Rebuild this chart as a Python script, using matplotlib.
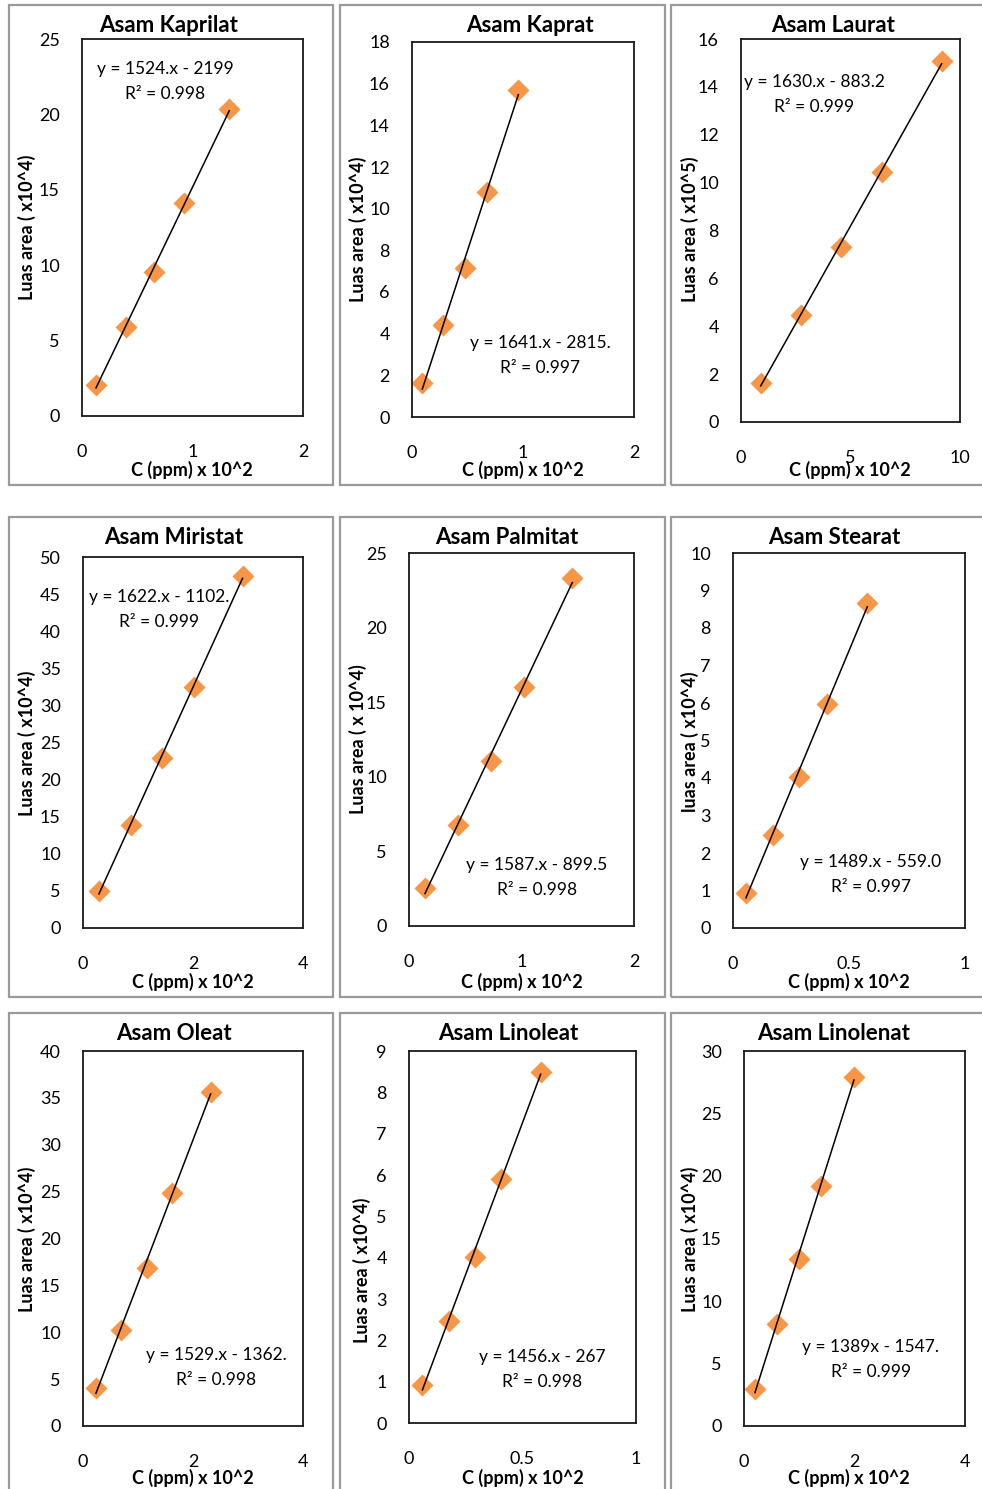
import numpy as np
import matplotlib.pyplot as plt
from matplotlib.patches import Rectangle
from matplotlib.ticker import FuncFormatter

plt.rcParams['font.family'] = ['Lato', 'DejaVu Sans']

# data (x in ppm x10^2, y in area units)
titles = ['Asam Kaprilat', 'Asam Kaprat', 'Asam Laurat',
          'Asam Miristat', 'Asam Palmitat', 'Asam Stearat',
          'Asam Oleat', 'Asam Linoleat', 'Asam Linolenat']
ylabels = ['Luas area ( x10^4)', 'Luas area ( x10^4)', 'Luas area ( x10^5)',
           'Luas area ( x10^4)', 'Luas area ( x 10^4)', 'luas area ( x10^4)',
           'Luas area ( x10^4)', 'Luas area ( x10^4)', 'Luas area ( x10^4)']
equations = ['y = 1524.x - 2199', 'y = 1641.x - 2815.', 'y = 1630.x - 883.2',
             'y = 1622.x - 1102.', 'y = 1587.x - 899.5', 'y = 1489.x - 559.0',
             'y = 1529.x - 1362.', 'y = 1456.x - 267', 'y = 1389x - 1547.']
r2 = ['R² = 0.998', 'R² = 0.997', 'R² = 0.999',
      'R² = 0.999', 'R² = 0.998', 'R² = 0.997',
      'R² = 0.998', 'R² = 0.998', 'R² = 0.999']

x_kaprilat = [0.127, 0.395, 0.654, 0.926, 1.333]
y_kaprilat = [2.06, 5.92, 9.57, 14.1, 20.36]
x_kaprat = [0.093, 0.282, 0.477, 0.673, 0.958]
y_kaprat = [1.62, 4.42, 7.14, 10.79, 15.70]
x_laurat = [0.90, 2.73, 4.57, 6.42, 9.16]
y_laurat = [1.64, 4.47, 7.30, 10.46, 15.08]
x_miristat = [0.29, 0.867, 1.44, 2.02, 2.90]
y_miristat = [4.99, 13.88, 22.95, 32.5, 47.5]
x_palmitat = [0.142, 0.439, 0.726, 1.02, 1.452]
y_palmitat = [2.53, 6.77, 11.06, 16.04, 23.3]
x_stearat = [0.056, 0.171, 0.286, 0.404, 0.579]
y_stearat = [0.94, 2.48, 4.02, 5.97, 8.66]
x_oleat = [0.236, 0.69, 1.158, 1.612, 2.321]
y_oleat = [4.02, 10.24, 16.82, 24.82, 35.66]
x_linoleat = [0.059, 0.176, 0.291, 0.404, 0.58]
y_linoleat = [0.92, 2.47, 4.02, 5.90, 8.50]
x_linolenat = [0.199, 0.592, 0.995, 1.388, 1.99]
y_linolenat = [2.93, 8.16, 13.36, 19.22, 27.9]

xs = [x_kaprilat, x_kaprat, x_laurat, x_miristat, x_palmitat, x_stearat,
      x_oleat, x_linoleat, x_linolenat]
ys = [y_kaprilat, y_kaprat, y_laurat, y_miristat, y_palmitat, y_stearat,
      y_oleat, y_linoleat, y_linolenat]

xmax = [2, 2, 10, 4, 2, 1, 4, 1, 4]
xstep = [1, 1, 5, 2, 1, 0.5, 2, 0.5, 2]
ymax = [25, 18, 16, 50, 25, 10, 40, 9, 30]
ystep = [5, 2, 2, 5, 5, 1, 5, 1, 5]

# layout in pixels of the 982x1489 picture
W, H = 982, 1489
def fx(px):
    return px / W
def fy(py):
    return 1 - py / H

boxes = [(82, 39, 303, 416), (412, 42, 634, 417), (741, 39, 960, 422),
         (83, 557, 303, 928), (409, 553, 634, 926), (733, 553, 965, 928),
         (83, 1051, 303, 1426), (409, 1051, 636, 1423), (744, 1051, 965, 1426)]
title_pos = [(169, 25), (530, 25), (833, 25),
             (174, 537), (507, 537), (834, 537),
             (174, 1033), (508, 1033), (834, 1033)]
ylab_pos = [(27, 227), (358, 229), (690, 229),
            (27, 743), (358, 739), (690, 742),
            (27, 1239), (362, 1270), (690, 1239)]
xlab_pos = [(192, 470), (523, 470), (850, 470),
            (193, 982), (522, 982), (849, 982),
            (193, 1478), (523, 1478), (849, 1478)]
eq_pos = [(165, 69), (540, 343), (814, 82),
          (159, 597), (537, 865), (871, 862),
          (216, 1355), (542, 1357), (871, 1347)]
frame_x = [(9, 333), (340, 665), (671, 1000)]
frame_y = [(5, 485), (517, 997), (1013, 1500)]

fig = plt.figure(figsize=(W / 100, H / 100), dpi=100)

# outer chart borders
for (y0, y1) in frame_y:
    for (x0, x1) in frame_x:
        fig.add_artist(Rectangle((fx(x0), fy(y1)), fx(x1) - fx(x0), fy(y0) - fy(y1),
                                 transform=fig.transFigure, fill=False,
                                 edgecolor='#9a9a9a', linewidth=1.6))

fmt = FuncFormatter(lambda v, p: f'{v:g}')

for i in range(9):
    l, t, r, b = boxes[i]
    ax = fig.add_axes([fx(l), fy(b), fx(r) - fx(l), fy(t) - fy(b)])
    x = np.array(xs[i])
    y = np.array(ys[i])
    ax.plot(x, y, 'D', ms=11.5, color='#F79646', mec='none', zorder=2)
    k, c = np.polyfit(x, y, 1)
    xx = np.array([x.min(), x.max()])
    ax.plot(xx, k * xx + c, color='black', lw=1.1, zorder=3)

    ax.set_xlim(0, xmax[i])
    ax.set_ylim(0, ymax[i])
    ax.set_xticks(np.arange(0, xmax[i] + xstep[i] / 2, xstep[i]))
    ax.set_yticks(np.arange(0, ymax[i] + ystep[i] / 2, ystep[i]))
    ax.xaxis.set_major_formatter(fmt)
    ax.yaxis.set_major_formatter(fmt)
    ax.tick_params(axis='x', length=0, pad=20, labelsize=13)
    ax.tick_params(axis='y', length=0, pad=16, labelsize=13)
    for s in ax.spines.values():
        s.set_linewidth(1.3)
        s.set_color('#1a1a1a')
    ax.patch.set_alpha(0)

    fig.text(fx(title_pos[i][0]), fy(title_pos[i][1]), titles[i],
             ha='center', va='center', fontsize=16, fontweight='bold')
    fig.text(fx(ylab_pos[i][0]), fy(ylab_pos[i][1]), ylabels[i], rotation=90,
             ha='center', va='center', fontsize=13, fontweight='bold')
    fig.text(fx(xlab_pos[i][0]), fy(xlab_pos[i][1]), 'C (ppm) x 10^2',
             ha='center', va='center', fontsize=13, fontweight='bold')
    ex, ey = eq_pos[i]
    fig.text(fx(ex), fy(ey), equations[i], ha='center', va='center', fontsize=12.5)
    fig.text(fx(ex), fy(ey + 25), r2[i], ha='center', va='center', fontsize=12.5)

fig.savefig('out.png', dpi=100)
